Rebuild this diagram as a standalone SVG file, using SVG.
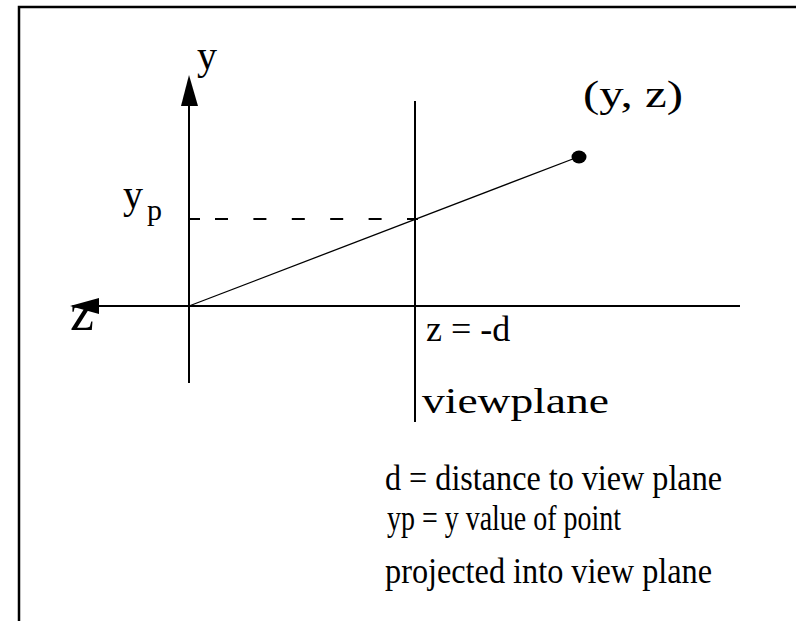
<svg xmlns="http://www.w3.org/2000/svg" width="796" height="621" viewBox="0 0 796 621">
<style>
text{font-family:"Liberation Serif","Times New Roman",serif;fill:#000}
.ax{stroke:#000;stroke-width:2;fill:none}
.thin{stroke:#000;stroke-width:1.3;fill:none}
</style>
<rect width="796" height="621" fill="#fff"/>
<g id="frame"><path d="M19 621V7H796" stroke="#000" stroke-width="2.5" fill="none"/></g>
<g id="connectors">
<path class="ax" d="M189 100V383"/>
<polygon points="189,75 181,106 198,106" fill="#000"/>
<path class="ax" d="M95 306H740"/>
<polygon points="70,306 99,298 99,314" fill="#000"/>
<path class="ax" d="M415 101V422"/>
<path class="ax" d="M190 219H200M215 219H418" stroke-dasharray="13 25.4"/>
<path class="thin" d="M189 306L578 157"/>
</g>
<g id="point"><ellipse cx="579" cy="157" rx="7.5" ry="6.5" fill="#000"/></g>
<g id="labels">
<text x="197" y="69" font-size="40">y</text>
<text x="583" y="107" font-size="38" textLength="100" lengthAdjust="spacingAndGlyphs">(y, z)</text>
<text x="123" y="208" font-size="40">y</text>
<text x="147" y="220" font-size="30">p</text>
<text x="70" y="330" font-size="54">z</text>
<text x="426" y="341" font-size="36">z = -d</text>
<text x="422" y="413" font-size="36" textLength="187" lengthAdjust="spacingAndGlyphs">viewplane</text>
<text x="385" y="490" font-size="36" textLength="337" lengthAdjust="spacingAndGlyphs">d = distance to view plane</text>
<text x="387" y="530" font-size="36" textLength="234" lengthAdjust="spacingAndGlyphs">yp = y value of point</text>
<text x="385" y="583" font-size="36" textLength="327" lengthAdjust="spacingAndGlyphs">projected into view plane</text>
</g>
</svg>
